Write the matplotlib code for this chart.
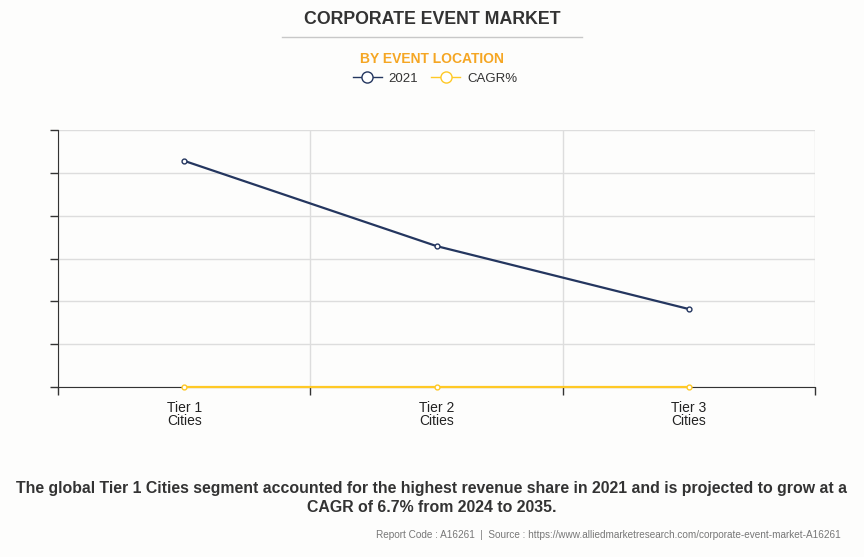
import matplotlib
matplotlib.use("Agg")
import matplotlib.pyplot as plt
from matplotlib.lines import Line2D
import numpy as np

plt.rcParams['font.family'] = ['Liberation Sans', 'DejaVu Sans']

categories = ["Tier 1\nCities", "Tier 2\nCities", "Tier 3\nCities"]
values_2021 = [5.28, 3.29, 1.82]
values_cagr = [0.0, 0.0, 0.0]
series_names = ["2021", "CAGR%"]

navy = "#24365f"
yellow = "#ffc926"
bg = "#fdfdfc"

fig = plt.figure(figsize=(8.64, 5.57), dpi=100, facecolor=bg)
W, H = 864, 557
ax = fig.add_axes([58 / W, 1 - 387 / H, (815 - 58) / W, (387 - 130) / H])
ax.set_facecolor(bg)

x = np.arange(len(categories))
ax.plot(x, values_2021, color=navy, lw=1.6, marker='o', ms=3.5,
        mfc='white', mec=navy, mew=1, zorder=3)
ax.plot(x, values_cagr, color=yellow, lw=1.6, marker='o', ms=3.5,
        mfc='white', mec=yellow, mew=1, zorder=3, clip_on=False)

ax.set_xlim(-0.5, 2.5)
ax.set_ylim(0, 6)
ax.set_yticks(np.arange(0, 7, 1))
ax.set_yticklabels([])
ax.set_xticks([-0.5, 0.5, 1.5, 2.5])
ax.set_xticklabels([])
ax.set_xticks(x, minor=True)
ax.set_xticklabels(categories, minor=True, fontsize=10, color="#222222", linespacing=0.95)
ax.tick_params(axis='x', which='minor', length=0, pad=10)
ax.tick_params(axis='x', which='major', length=6, color="#333333", width=1)
ax.tick_params(axis='y', length=6, color="#333333", width=1)

ax.grid(True, axis='y', color="#dddddd", lw=1)
ax.grid(True, axis='x', which='major', color="#dddddd", lw=1)
for s in ['top', 'right']:
    ax.spines[s].set_visible(False)
ax.spines['left'].set_color("#333333")
ax.spines['bottom'].set_color("#333333")
ax.set_axisbelow(True)

fig.text(432 / W, 1 - 20 / H, "CORPORATE EVENT MARKET", ha='center', va='center',
         fontsize=12.8, fontweight='bold', color="#333333")
fig.add_artist(Line2D([282 / W, 582 / W], [1 - 37 / H, 1 - 37 / H], color="#c8c8c8", lw=1))
fig.text(432 / W, 1 - 59 / H, "BY EVENT LOCATION", ha='center', va='center',
         fontsize=10, fontweight='bold', color="#f5a623")

handles = [Line2D([], [], color=navy, lw=1, marker='o', ms=8, mfc='white', mec=navy),
           Line2D([], [], color=yellow, lw=1, marker='o', ms=8, mfc='white', mec=yellow)]
fig.legend(handles, series_names, loc='center', bbox_to_anchor=(435 / W, 1 - 79 / H),
           ncol=2, frameon=False, fontsize=9.5, handlelength=2.2, columnspacing=1.0,
           handletextpad=0.5, labelcolor="#333333")

fig.text(432 / W, 1 - 498 / H,
         "The global Tier 1 Cities segment accounted for the highest revenue share in 2021 and is projected to grow at a\nCAGR of 6.7% from 2024 to 2035.",
         ha='center', va='center', fontsize=11.4, fontweight='bold', color="#333333", linespacing=1.3)
fig.text(841 / W, 1 - 535 / H,
         "Report Code : A16261  |  Source : https://www.alliedmarketresearch.com/corporate-event-market-A16261",
         ha='right', va='center', fontsize=7.2, color="#777777")

fig.savefig("out.png", dpi=100, facecolor=bg)
